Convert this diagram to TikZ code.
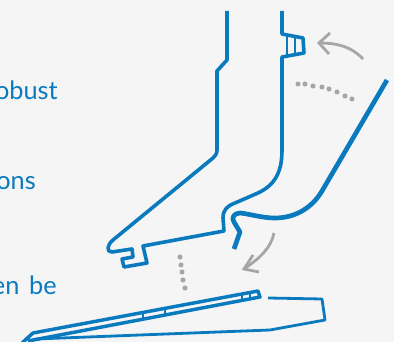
\documentclass[tikz,border=0pt]{standalone}
\usepackage{fontspec}
\setmainfont[WordSpace=1.5]{Lato}
\definecolor{blu}{HTML}{0A7ABF}
\definecolor{gry}{HTML}{A6A6A6}
\definecolor{bgc}{HTML}{F5F5F5}
\tikzset{
 x=0.75pt,y=-0.75pt,
 part/.style={draw=blu,line width=2.7pt,line join=round,fill=none},
 greyarrow/.style={draw=gry,line width=2.1pt},
 dot/.style={circle,fill=gry,inner sep=0pt,minimum size=3.8pt},
 label/.style={anchor=base east,text=blu,font=\fontsize{19}{22}\selectfont,inner sep=0pt}
}
\begin{document}
\begin{tikzpicture}
\useasboundingbox (0,0) rectangle (394,342);
\clip (0,0) rectangle (394,342);
\fill[bgc] (0,0) rectangle (394,342);
\node[label] (t1) at (58,100) {obust};
\node[label] (t2) at (36,190) {ons};
\node[label] (t3) at (57,295) {en be};
% upper part outline
\draw[part] (227,11) -- (227,60) -- (217,71) -- (217,150) .. controls (217,154) and (215,156) .. (213,158)
 -- (113,240) .. controls (107,245) and (106,252) .. (112,252) -- (132,249) -- (133,257) -- (122,259) -- (124,267) -- (147,263) -- (143,246) -- (224,231)
 -- (223,218) .. controls (223,210) and (227,206) .. (235,203) -- (258,193) .. controls (275,185) and (282,172) .. (282,150)
 -- (282,57) -- (304,53) -- (303,38) -- (282,34) -- (282,11);
\draw[part,line width=2.2pt] (287,36) -- (287,55);
\draw[part,line width=1.6pt] (295,37) -- (295,54);
% hook part
\draw[part,line width=3.5pt] (387,80) -- (322,191) .. controls (312,208) and (295,218) .. (275,218)
 .. controls (262,218) and (250,214) .. (240,213) .. controls (234,213) and (231,218) .. (234,222) -- (240,232) -- (234,249);
% grey arrows
\coordinate (a1s) at (363,59); \coordinate (a1e) at (319,43);
\draw[greyarrow] (a1s) .. controls (352,47) and (338,43) .. (a1e);
\draw[greyarrow] (330,33) -- (a1e) -- (329,54);
\coordinate (a2s) at (274,233); \coordinate (a2e) at (244,269);
\draw[greyarrow] (a2s) .. controls (271,248) and (260,258) .. (a2e);
\draw[greyarrow] (253,255) -- (a2e) -- (259,272);
% dots
\foreach \p/\n in {{298,84}/a,{305,84}/b,{313,86}/c,{322,87}/d,{329,89}/e,{337,92}/f,{345,96}/g,{352,99}/h,{180,257}/i,{181,265}/j,{182,272}/k,{183,280}/l,{185,288}/m}
 \node[dot] (d\n) at (\p) {};
% lower blade
\draw[part,line width=2.6pt] (22,343) -- (33,333) -- (258,291) -- (260,297) -- (28,341);
\draw[part,line width=2.1pt] (36,339) -- (270,330) -- (325,320) -- (322,299) -- (268,298);
\draw[part,line width=1.6pt] (143,312) -- (143,318) (165,308) -- (165,314) (242,294) -- (242,299) (250,293) -- (250,298);
\end{tikzpicture}
\end{document}
